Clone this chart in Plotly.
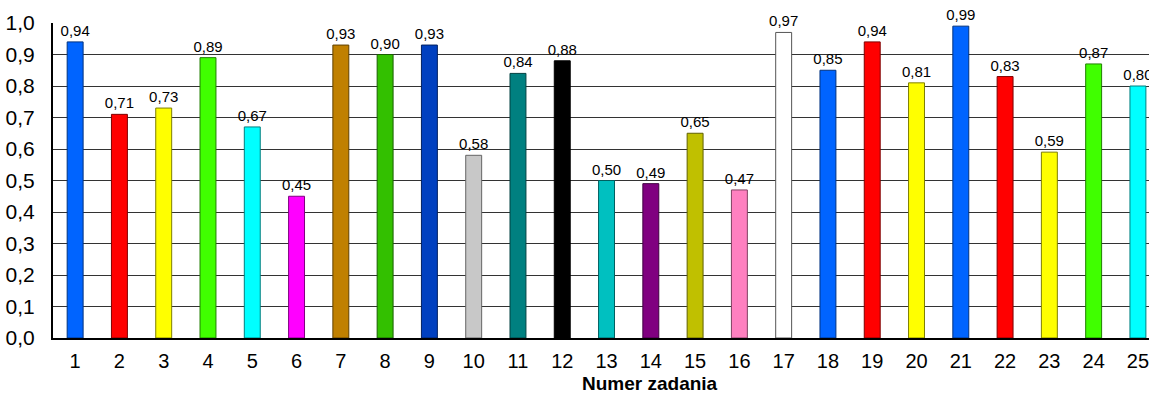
import plotly.graph_objects as go

# Task numbers and share of correct answers
zadania = [str(i) for i in range(1, 26)]
wyniki = [0.94, 0.71, 0.73, 0.89, 0.67, 0.45, 0.93, 0.90, 0.93, 0.58,
          0.84, 0.88, 0.50, 0.49, 0.65, 0.47, 0.97, 0.85, 0.94, 0.81,
          0.99, 0.83, 0.59, 0.87, 0.80]
kolory = ["#0064ff", "#ff0000", "#ffff00", "#40ff00", "#00ffff",
          "#ff00ff", "#c08000", "#33c000", "#0040c0", "#c8c8c8",
          "#008080", "#000000", "#00c0c0", "#800080", "#c0c000",
          "#ff80c0", "#ffffff", "#0064ff", "#ff0000", "#ffff00",
          "#0064ff", "#ff0000", "#ffff00", "#40ff00", "#00ffff"]
y_ticks = [i / 10 for i in range(11)]


def darker(hex_color, f=0.5):
    h = hex_color.lstrip("#")
    r, g, b = (int(h[i:i + 2], 16) for i in (0, 2, 4))
    if (r, g, b) == (255, 255, 255):
        return "#555555"
    return "#{:02x}{:02x}{:02x}".format(int(r * f), int(g * f), int(b * f))


x_pos = list(range(1, 26))

fig = go.Figure(go.Bar(
    x=x_pos,
    y=wyniki,
    width=0.36,
    marker=dict(color=kolory,
                line=dict(color=[darker(c) for c in kolory], width=1)),
    texttemplate="%{y:.2f}",
    textposition="outside",
    constraintext="none",
    textfont=dict(family="Liberation Sans, Arial", size=15, color="#000"),
    cliponaxis=False,
    hoverinfo="skip",
))

fig.update_layout(
    width=1149, height=394,
    margin=dict(l=53, r=0, t=23, b=56),
    paper_bgcolor="white", plot_bgcolor="white",
    separators=", ",
    showlegend=False,
    font=dict(family="Liberation Sans, Arial", color="#000"),
    xaxis=dict(
        range=[0.5, 25.25],
        tickmode="array", tickvals=x_pos, ticktext=zadania,
        tickfont=dict(size=20),
        ticklabeloverflow="allow",
        showgrid=False, zeroline=False,
        showline=True, linecolor="#000", linewidth=2,
        ticks="", ticklabelstandoff=4,
    ),
    yaxis=dict(
        range=[0, 1.0],
        tickmode="array", tickvals=y_ticks, tickformat=".1f",
        tickfont=dict(size=21),
        showgrid=True, gridcolor="#333", gridwidth=1,
        zeroline=False,
        showline=True, linecolor="#000", linewidth=2,
        ticks="", ticklabelstandoff=12,
    ),
    annotations=[dict(
        text="<b>Numer zadania</b>",
        xref="paper", yref="paper",
        x=(650 - 53) / 1096, y=-(383 - 338) / 315,
        xanchor="center", yanchor="middle",
        showarrow=False,
        font=dict(size=19, color="#000"),
    )],
)

fig.write_html("out.html")
